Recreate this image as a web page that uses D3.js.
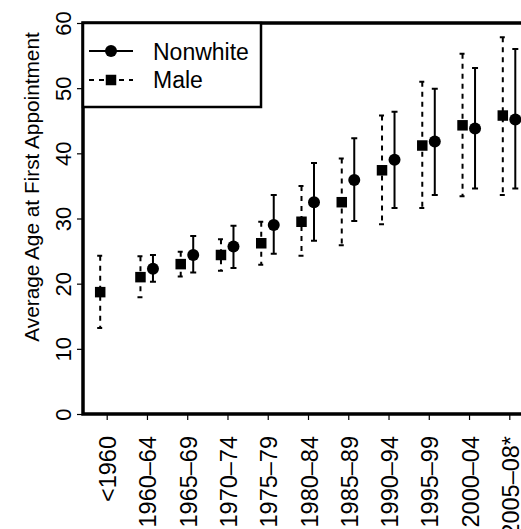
<!DOCTYPE html>
<html>
<head>
<meta charset="utf-8">
<script src="https://cdnjs.cloudflare.com/ajax/libs/d3/7.8.5/d3.min.js"></script>
<style>
  body { margin: 0; background: #fff; }
  svg { display: block; font-family: "Liberation Sans", Arial, sans-serif; }
</style>
</head>
<body>
<div id="chart"></div>
<script>
var categories = ["<1960", "1960\u201364", "1965\u201369", "1970\u201374", "1975\u201379", "1980\u201384",
                  "1985\u201389", "1990\u201394", "1995\u201399", "2000\u201304", "2005\u201308*"];

// Male series: mean and interval
var maleMean = [18.7, 21.0, 23.0, 24.4, 26.2, 29.5, 32.5, 37.4, 41.2, 44.3, 45.8];
var maleLo   = [13.2, 17.9, 21.1, 22.0, 22.9, 24.3, 25.9, 29.1, 31.6, 33.4, 33.6];
var maleHi   = [24.3, 24.2, 24.9, 26.8, 29.5, 35.0, 39.2, 45.8, 51.0, 55.3, 57.8];

// Nonwhite series (no value before 1960)
var nonwhiteMean = [null, 22.3, 24.4, 25.7, 29.0, 32.5, 35.9, 39.0, 41.8, 43.8, 45.2];
var nonwhiteLo   = [null, 20.3, 21.7, 22.4, 24.6, 26.6, 29.6, 31.6, 33.6, 34.6, 34.6];
var nonwhiteHi   = [null, 24.4, 27.3, 28.9, 33.6, 38.5, 42.3, 46.4, 49.9, 53.1, 56.0];

var yTicks = [0, 10, 20, 30, 40, 50, 60];

var W = 521, H = 529;
var pLeft = 83, pTop = 23, pBottom = 414, pRight = 545;

var svg = d3.select("#chart").append("svg")
    .attr("width", W)
    .attr("height", H);

var x = d3.scalePoint()
    .domain(categories)
    .range([106.7, 509.3]);

var y = d3.scaleLinear()
    .domain([0, 60])
    .range([pBottom, pTop]);

var offMale = -6.5, offNon = 6;

// axes
var xAxis = svg.append("g")
    .attr("transform", "translate(0," + pBottom + ")")
    .call(d3.axisBottom(x).tickSize(6).tickSizeOuter(0));
xAxis.select(".domain").remove();
xAxis.selectAll(".tick line").attr("stroke", "#000").attr("stroke-width", 1.2);
xAxis.selectAll(".tick text")
    .attr("transform", "rotate(-90)")
    .attr("x", -22)
    .attr("y", 1)
    .attr("dy", null)
    .attr("dominant-baseline", "central")
    .attr("text-anchor", "end")
    .attr("font-size", 23.5)
    .attr("font-family", "Liberation Sans, Arial, sans-serif")
    .attr("fill", "#000");

var yAxis = svg.append("g")
    .attr("transform", "translate(" + pLeft + ",0)")
    .call(d3.axisLeft(y).tickValues(yTicks).tickSize(6).tickSizeOuter(0));
yAxis.select(".domain").remove();
yAxis.selectAll(".tick line").attr("stroke", "#000").attr("stroke-width", 1.2);
yAxis.selectAll(".tick text")
    .attr("transform", "rotate(-90)")
    .attr("x", 0)
    .attr("y", -20)
    .attr("dy", null)
    .attr("dominant-baseline", "central")
    .attr("text-anchor", "middle")
    .attr("font-size", 22)
    .attr("font-family", "Liberation Sans, Arial, sans-serif")
    .attr("fill", "#000");

// box (left, top, bottom)
svg.append("path")
    .attr("d", "M" + pRight + "," + pTop + "H" + pLeft + "V" + pBottom + "H" + pRight)
    .attr("fill", "none")
    .attr("stroke", "#000")
    .attr("stroke-width", 3.5);

svg.append("text")
    .attr("transform", "translate(31,187) rotate(-90)")
    .attr("text-anchor", "middle")
    .attr("dominant-baseline", "central")
    .attr("font-size", 20.8)
    .text("Average Age at First Appointment");

// error bars
function barPath(cx, lo, hi) {
  var c = 3;
  return "M" + (cx - c) + "," + y(hi) + "H" + (cx + c) +
         "M" + cx + "," + y(hi) + "V" + y(lo) +
         "M" + (cx - c) + "," + y(lo) + "H" + (cx + c);
}

var idx = d3.range(categories.length);

svg.append("g").selectAll("path")
  .data(idx)
  .join("path")
    .attr("d", function(i) { return barPath(x(categories[i]) + offMale, maleLo[i], maleHi[i]); })
    .attr("fill", "none")
    .attr("stroke", "#000")
    .attr("stroke-width", 2)
    .attr("stroke-dasharray", "5,5");

svg.append("g").selectAll("path")
  .data(idx.filter(function(i) { return nonwhiteMean[i] != null; }))
  .join("path")
    .attr("d", function(i) { return barPath(x(categories[i]) + offNon, nonwhiteLo[i], nonwhiteHi[i]); })
    .attr("fill", "none")
    .attr("stroke", "#000")
    .attr("stroke-width", 2);

var sq = 10.5;
svg.append("g").selectAll("rect")
  .data(idx)
  .join("rect")
    .attr("x", function(i) { return x(categories[i]) + offMale - sq / 2; })
    .attr("y", function(i) { return y(maleMean[i]) - sq / 2; })
    .attr("width", sq)
    .attr("height", sq)
    .attr("fill", "#000");

svg.append("g").selectAll("circle")
  .data(idx.filter(function(i) { return nonwhiteMean[i] != null; }))
  .join("circle")
    .attr("cx", function(i) { return x(categories[i]) + offNon; })
    .attr("cy", function(i) { return y(nonwhiteMean[i]); })
    .attr("r", 6)
    .attr("fill", "#000");

// legend
var lg = svg.append("g");
lg.append("rect")
    .attr("x", pLeft).attr("y", pTop)
    .attr("width", 261 - pLeft).attr("height", 107 - pTop)
    .attr("fill", "#fff")
    .attr("stroke", "#000")
    .attr("stroke-width", 2.5);
lg.append("line")
    .attr("x1", 89).attr("x2", 133).attr("y1", 51).attr("y2", 51)
    .attr("stroke", "#000").attr("stroke-width", 2);
lg.append("circle").attr("cx", 111).attr("cy", 51).attr("r", 6).attr("fill", "#000");
lg.append("line")
    .attr("x1", 89).attr("x2", 133).attr("y1", 80).attr("y2", 80)
    .attr("stroke", "#000").attr("stroke-width", 2)
    .attr("stroke-dasharray", "5,5");
lg.append("rect").attr("x", 111 - sq / 2).attr("y", 80 - sq / 2)
    .attr("width", sq).attr("height", sq).attr("fill", "#000");
lg.append("text").attr("x", 153).attr("y", 52)
    .attr("dominant-baseline", "central").attr("font-size", 23)
    .text("Nonwhite");
lg.append("text").attr("x", 153).attr("y", 80)
    .attr("dominant-baseline", "central").attr("font-size", 23)
    .text("Male");
</script>
</body>
</html>
